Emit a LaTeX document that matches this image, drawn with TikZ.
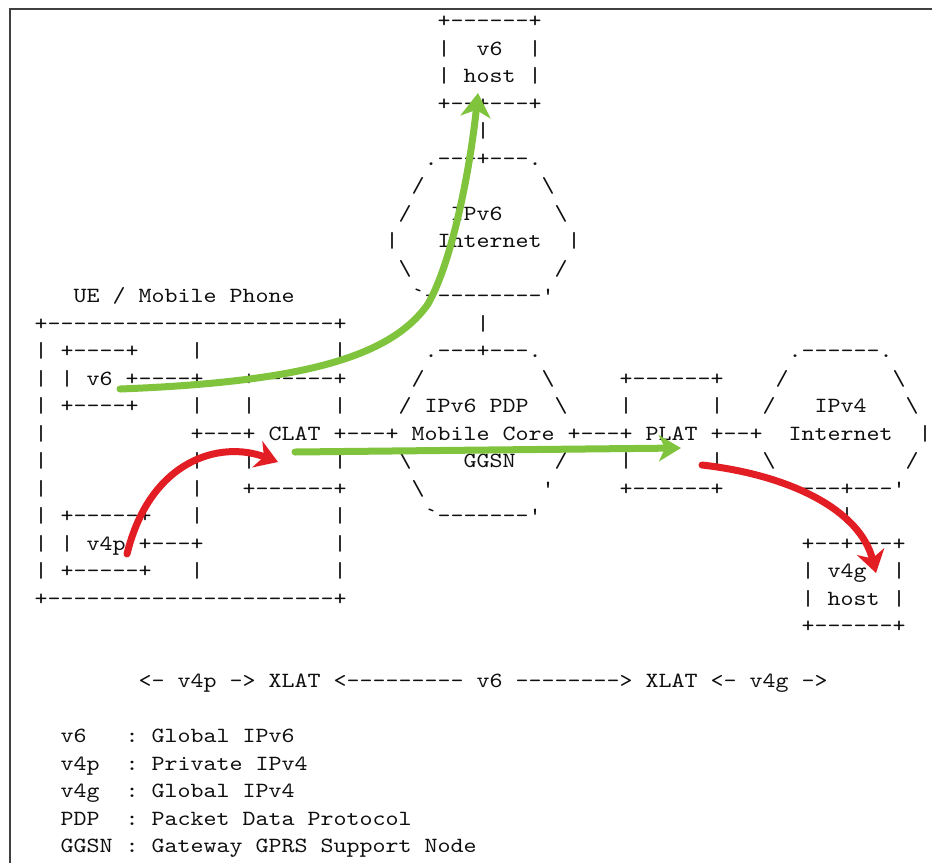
\documentclass[tikz,border=0pt]{standalone}
\usepackage{fontspec}
\setmonofont{lmmono10-regular.otf}[FakeStretch=1.1429]
\usetikzlibrary{arrows.meta}
\definecolor{txtc}{RGB}{15,15,15}
\definecolor{arrgreen}{RGB}{128,196,62}
\definecolor{arrred}{RGB}{226,30,36}
\newcounter{tn}
\newcommand\T[3]{\stepcounter{tn}\node[asc] (t\arabic{tn}) at ({34.5+13*(#1)},{27.5+27.5*(#2)}) {#3};}
\newcommand\bs{\textbackslash}
\begin{document}
\begin{tikzpicture}[x=1pt,y=-1pt,
  asc/.style={anchor=base west,inner sep=0pt,outer sep=0pt,text=txtc,
    font=\ttfamily\fontsize{21.67}{26}\selectfont\frenchspacing},
  garrow/.style={draw=arrgreen,line width=7pt,line cap=round,
    -{Stealth[length=24pt,width=30pt,inset=7pt]}},
  rarrow/.style={draw=arrred,line width=7pt,line cap=round,
    -{Stealth[length=22pt,width=28pt,inset=7pt]}},
  framel/.style={draw=black!75,line width=2.5pt}]
\useasboundingbox (0,0) rectangle (932,863);
\fill[white] (0,0) rectangle (932,863);
\coordinate (fa) at (10,863);
\coordinate (fb) at (10,9);
\coordinate (fc) at (932,9);
\draw[framel] (fa) -- (fb) -- (fc);
% v6 host
\T{31}{0}{+------+}
\T{31}{1}{|} \T{34}{1}{v6} \T{38}{1}{|}
\T{31}{2}{|} \T{33}{2}{host} \T{38}{2}{|}
\T{31}{3}{+--+---+}
\T{34}{4}{|}
% IPv6 Internet
\T{30}{5}{.---+---.}
\T{29}{6}{/} \T{39}{6}{\bs}
\T{28}{7}{/} \T{32}{7}{IPv6} \T{40}{7}{\bs}
\T{27}{8}{|} \T{31}{8}{Internet} \T{41}{8}{|}
\T{28}{9}{\bs} \T{40}{9}{/}
\T{3}{10}{UE / Mobile Phone} \T{29}{10}{`---------'}
% UE box and the rest
\T{0}{11}{+----------------------+} \T{34}{11}{|}
\T{0}{12}{|} \T{2}{12}{+----+} \T{12}{12}{|} \T{23}{12}{|} \T{30}{12}{.---+---.} \T{58}{12}{.------.}
\T{0}{13}{|} \T{2}{13}{|} \T{4}{13}{v6} \T{7}{13}{+----+} \T{16}{13}{+------+} \T{29}{13}{/} \T{39}{13}{\bs} \T{45}{13}{+------+} \T{57}{13}{/} \T{66}{13}{\bs}
\T{0}{14}{|} \T{2}{14}{+----+} \T{12}{14}{|} \T{16}{14}{|} \T{23}{14}{|} \T{28}{14}{/} \T{30}{14}{IPv6 PDP} \T{40}{14}{\bs} \T{45}{14}{|} \T{52}{14}{|} \T{56}{14}{/} \T{60}{14}{IPv4} \T{67}{14}{\bs}
\T{0}{15}{|} \T{12}{15}{+---+ CLAT +---+ Mobile Core +---+ PLAT +--+} \T{58}{15}{Internet} \T{68}{15}{|}
\T{0}{16}{|} \T{12}{16}{|} \T{16}{16}{|} \T{23}{16}{|} \T{28}{16}{\bs} \T{33}{16}{GGSN} \T{40}{16}{/} \T{45}{16}{|} \T{52}{16}{|} \T{56}{16}{\bs} \T{67}{16}{/}
\T{0}{17}{|} \T{12}{17}{|} \T{16}{17}{+------+} \T{29}{17}{\bs} \T{39}{17}{'} \T{45}{17}{+------+} \T{57}{17}{`----+---'}
\T{0}{18}{|} \T{2}{18}{+-----+} \T{12}{18}{|} \T{23}{18}{|} \T{30}{18}{`-------'} \T{62}{18}{|}
\T{0}{19}{|} \T{2}{19}{|} \T{4}{19}{v4p} \T{8}{19}{+---+} \T{23}{19}{|} \T{59}{19}{+--+---+}
\T{0}{20}{|} \T{2}{20}{+-----+} \T{12}{20}{|} \T{23}{20}{|} \T{59}{20}{|} \T{61}{20}{v4g} \T{66}{20}{|}
\T{0}{21}{+----------------------+} \T{59}{21}{|} \T{61}{21}{host} \T{66}{21}{|}
\T{59}{22}{+------+}
\T{8}{24}{<- v4p -> XLAT <--------- v6 --------> XLAT <- v4g ->}
% legend
\T{2}{26}{v6} \T{7}{26}{:} \T{9}{26}{Global IPv6}
\T{2}{27}{v4p} \T{7}{27}{:} \T{9}{27}{Private IPv4}
\T{2}{28}{v4g} \T{7}{28}{:} \T{9}{28}{Global IPv4}
\T{2}{29}{PDP} \T{7}{29}{:} \T{9}{29}{Packet Data Protocol}
\T{2}{30}{GGSN} \T{7}{30}{:} \T{9}{30}{Gateway GPRS Support Node}
% arrows
\coordinate (g1s) at (120,389);
\coordinate (g1m) at (428,304);
\coordinate (g1e) at (478,93);
\draw[garrow] (g1s) .. controls (300,382) and (390,358) .. (g1m) .. controls (452,262) and (470,170) .. (g1e);
\coordinate (g2s) at (295,452);
\coordinate (g2e) at (681,448);
\draw[garrow,-{Stealth[length=22pt,width=26pt,inset=6pt]}] (g2s) -- (g2e);
\coordinate (r1s) at (127,554);
\coordinate (r1e) at (278,462);
\draw[rarrow] (r1s) .. controls (150,460) and (220,440) .. (r1e);
\coordinate (r2s) at (702,465);
\coordinate (r2e) at (876,573);
\draw[rarrow] (r2s) .. controls (790,475) and (860,510) .. (r2e);
\end{tikzpicture}
\end{document}
